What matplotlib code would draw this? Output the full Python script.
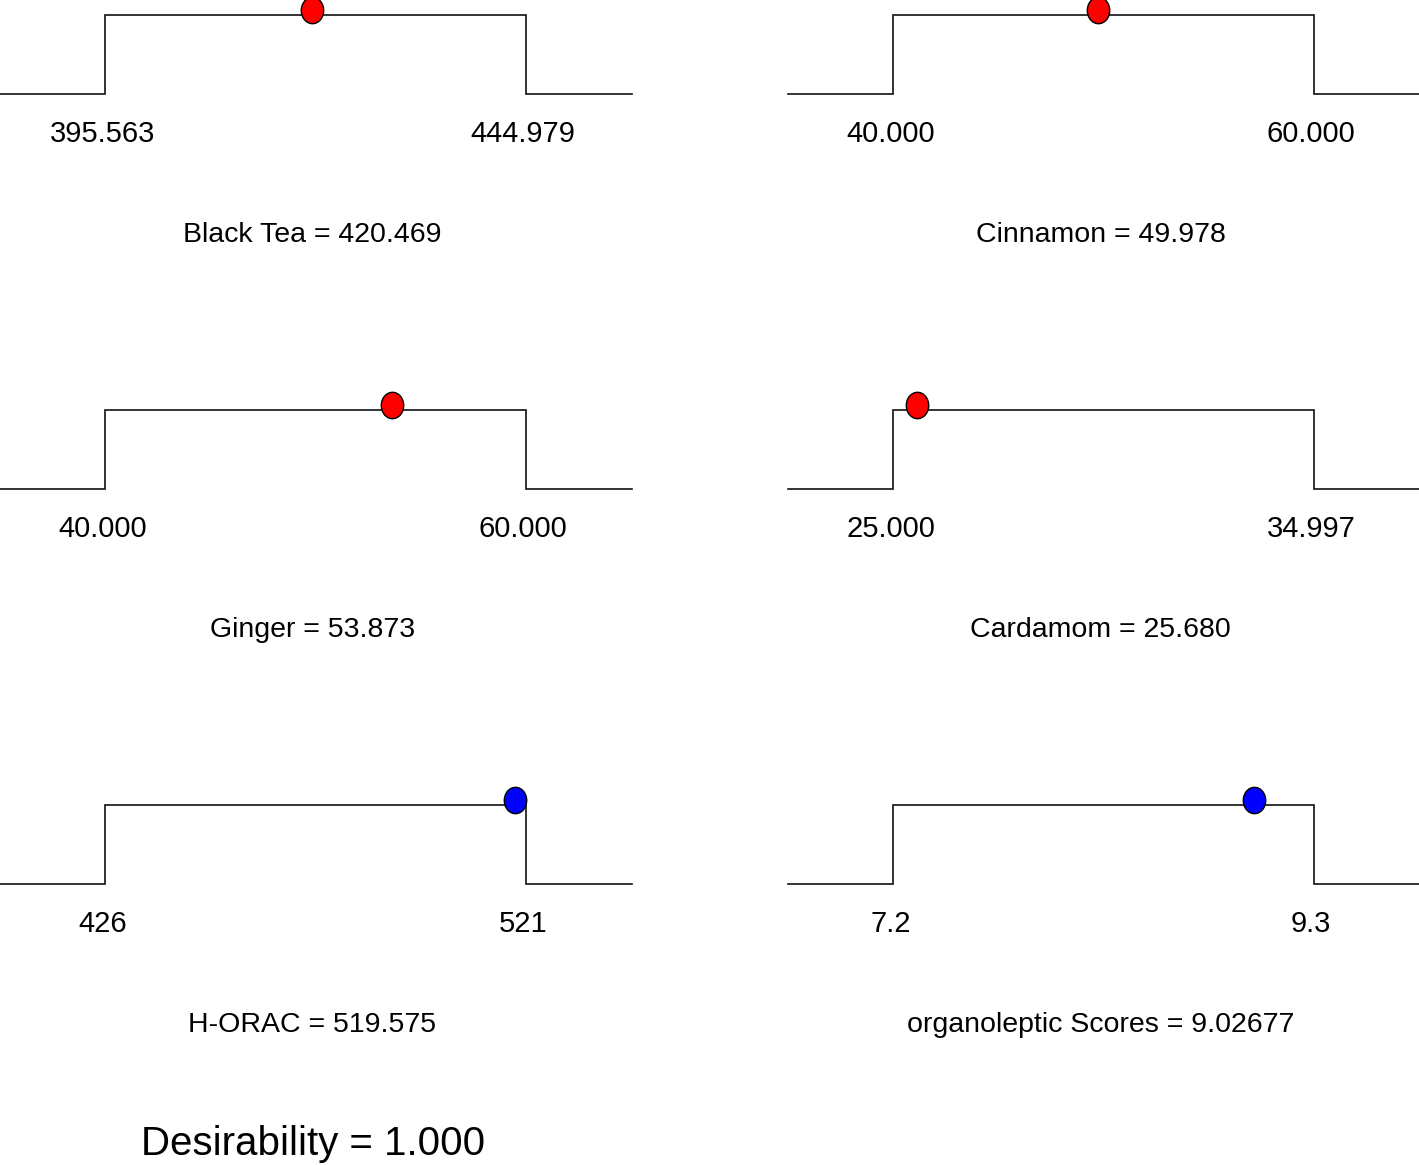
import matplotlib
matplotlib.use("Agg")
import matplotlib.pyplot as plt
import matplotlib.path as mpath
import matplotlib.transforms as mtrans

plt.rcParams['font.family'] = ['Liberation Sans', 'DejaVu Sans']

# factor names, ranges and optimum values
names = ["Black Tea", "Cinnamon", "Ginger", "Cardamom", "H-ORAC", "organoleptic Scores"]
lows = [395.563, 40.0, 40.0, 25.0, 426, 7.2]
highs = [444.979, 60.0, 60.0, 34.997, 521, 9.3]
low_labels = ["395.563", "40.000", "40.000", "25.000", "426", "7.2"]
high_labels = ["444.979", "60.000", "60.000", "34.997", "521", "9.3"]
values = [420.469, 49.978, 53.873, 25.680, 519.575, 9.02677]
value_labels = ["420.469", "49.978", "53.873", "25.680", "519.575", "9.02677"]
is_response = [False, False, False, False, True, True]
desirability = "1.000"

W, H = 1419, 1165
fig = plt.figure(figsize=(W / 100, H / 100), dpi=100)

# ellipse marker (a bit taller than wide)
circ = mpath.Path.unit_circle()
ell = mtrans.Affine2D().scale(0.85, 1.0).transform_path(circ)

col_x = [0, 788]
row_top = [15, 410, 805]
panel_w = 632
step_l, step_r = 105, 526  # px inside a panel
lev_h = 79

for i, name in enumerate(names):
    r, c = divmod(i, 2)
    x0 = col_x[c]
    w = min(panel_w, W - x0)
    top = row_top[r]
    ax = fig.add_axes([x0 / W, 1 - (top + lev_h) / H, w / W, lev_h / H])
    lo, hi = lows[i], highs[i]
    ppu = (step_r - step_l) / (hi - lo)
    xl = lo - step_l / ppu
    xr = lo + (w - step_l) / ppu
    ax.set_xlim(xl, xr)
    ax.set_ylim(0, 1)
    ax.axis("off")
    ax.plot([xl, lo, lo, hi, hi, xr], [0, 0, 1, 1, 0, 0], color="#111111",
            lw=1.2, clip_on=False, solid_joinstyle="miter")
    off = mtrans.ScaledTranslation(-5 / 100, 5 / 100, fig.dpi_scale_trans)
    ax.plot([values[i]], [1], marker=ell, ms=19, ls="none",
            mfc="#0000FF" if is_response[i] else "#FF0000", mec="black", mew=1.0,
            clip_on=False, transform=ax.transData + off, zorder=5)
    ax.annotate(low_labels[i], xy=(lo, 0), xytext=(-2, -40), textcoords="offset pixels",
                ha="center", va="center", fontsize=21)
    ax.annotate(high_labels[i], xy=(hi, 0), xytext=(-3, -40), textcoords="offset pixels",
                ha="center", va="center", fontsize=21)
    ax.annotate(f"{name} = {value_labels[i]}", xy=((lo + hi) / 2, 0), xytext=(-3, -141),
                textcoords="offset pixels", ha="center", va="center", fontsize=20.5)

fig.text(313 / W, 1 - 1144 / H, f"Desirability = {desirability}", ha="center", va="center",
         fontsize=29)

fig.savefig("out.png", dpi=100, facecolor="white")
